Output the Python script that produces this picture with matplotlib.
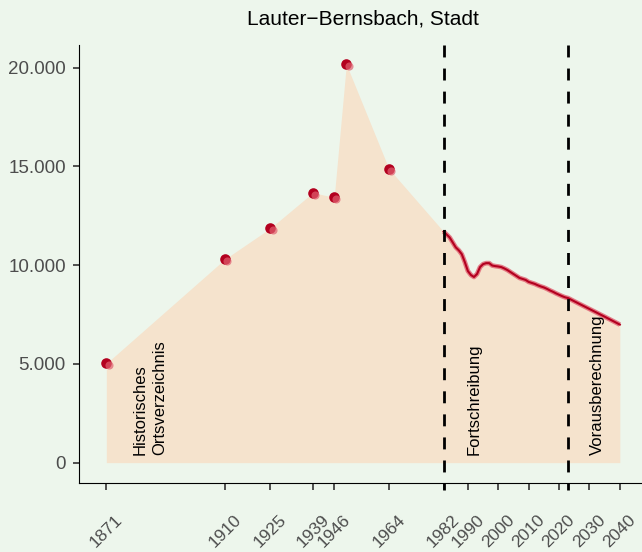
import numpy as np
import matplotlib
matplotlib.use("Agg")
import matplotlib.pyplot as plt
import matplotlib.transforms as mtransforms
from matplotlib.ticker import FuncFormatter

plt.rcParams['font.family'] = ['Liberation Sans', 'DejaVu Sans']

# historical census points
hist_years = [1871, 1910, 1925, 1939, 1946, 1950, 1964]
hist_pop = [5020, 10300, 11870, 13670, 13430, 20170, 14880]

# Fortschreibung (annual)
fort_years = list(range(1982, 2023))
fort_pop = [11700, 11550, 11400, 11150, 10900, 10750, 10550, 10150, 9700, 9500,
            9400, 9550, 9900, 10050, 10100, 10100, 9980, 9950, 9930, 9900,
            9830, 9750, 9650, 9550, 9450, 9350, 9300, 9250, 9150, 9100,
            9050, 8980, 8920, 8870, 8800, 8720, 8650, 8570, 8500, 8430, 8370]

# Vorausberechnung
proj_years = [2023, 2025, 2030, 2035, 2040]
proj_pop = [8330, 8170, 7780, 7390, 6990]

tick_years = [1871, 1910, 1925, 1939, 1946, 1964, 1982, 1990, 2000, 2010, 2020, 2030, 2040]
y_ticks = [0, 5000, 10000, 15000, 20000]
phase_lines = [1982, 2023]

bg = '#EDF6EC'
fill_col = '#F5E3CD'
dark_red = '#B3001F'
light_red = '#E06070'

fig = plt.figure(figsize=(6.42, 5.52), dpi=100, facecolor=bg)
ax = fig.add_axes([0.123, 0.125, 0.877, 0.793])
ax.set_facecolor(bg)

all_years = hist_years + fort_years + proj_years
all_pop = hist_pop + fort_pop + proj_pop
ax.fill_between(all_years, 0, all_pop, color=fill_col, lw=0, zorder=1)

line_years = fort_years + proj_years
line_pop = fort_pop + proj_pop
ax.plot(line_years, line_pop, color=light_red, lw=3.4, alpha=0.8, zorder=3,
        solid_capstyle='butt')
ax.plot(line_years, line_pop, color=dark_red, lw=1.5, zorder=4)

ax.scatter(hist_years, hist_pop, s=58, color=dark_red, zorder=5, lw=0)
off = mtransforms.offset_copy(ax.transData, fig=fig, x=1.6, y=-1.4, units='points')
ax.scatter(hist_years, hist_pop, s=34, color=light_red, alpha=0.7, zorder=6,
           lw=0, transform=off)

# dashed phase separators, drawn top-down so the dash pattern starts at the top
for yr in phase_lines:
    ax.plot([yr, yr], [1.0, -0.015], transform=ax.get_xaxis_transform(), color='black',
            lw=2, ls=(0, (4.3, 4)), zorder=7, clip_on=False)

ax.text(1879.5, 400, 'Historisches\nOrtsverzeichnis', rotation=90, ha='left', va='bottom',
        fontsize=12, color='black', linespacing=1.45, zorder=8)
ax.text(1992, 400, 'Fortschreibung', rotation=90, ha='center', va='bottom',
        fontsize=12, color='black', zorder=8)
ax.text(2032.6, 400, 'Vorausberechnung', rotation=90, ha='center', va='bottom',
        fontsize=12, color='black', zorder=8)

ax.set_xlim(1862, 2047.3)
ax.set_ylim(-1030, 21130)
ax.set_xticks(tick_years)
ax.set_xticklabels([str(t) for t in tick_years], rotation=45, ha='center', va='top',
                   fontsize=12.5, color='#4D4D4D')
ax.set_yticks(y_ticks)
ax.yaxis.set_major_formatter(FuncFormatter(lambda v, p: f"{int(v):,}".replace(',', '.')))
ax.tick_params(axis='y', labelsize=13.5, labelcolor='#4D4D4D', length=4.5, width=1.2,
               color='#333333', pad=5)
ax.tick_params(axis='x', length=5, width=1.2, color='#333333', pad=16)

for s in ['top', 'right']:
    ax.spines[s].set_visible(False)
ax.spines['left'].set_color('black')
ax.spines['bottom'].set_color('black')

fig.text(0.565, 0.966, 'Lauter\u2212Bernsbach, Stadt', ha='center', va='center',
         fontsize=15, color='black')

fig.savefig('out.png', dpi=100, facecolor=bg)
